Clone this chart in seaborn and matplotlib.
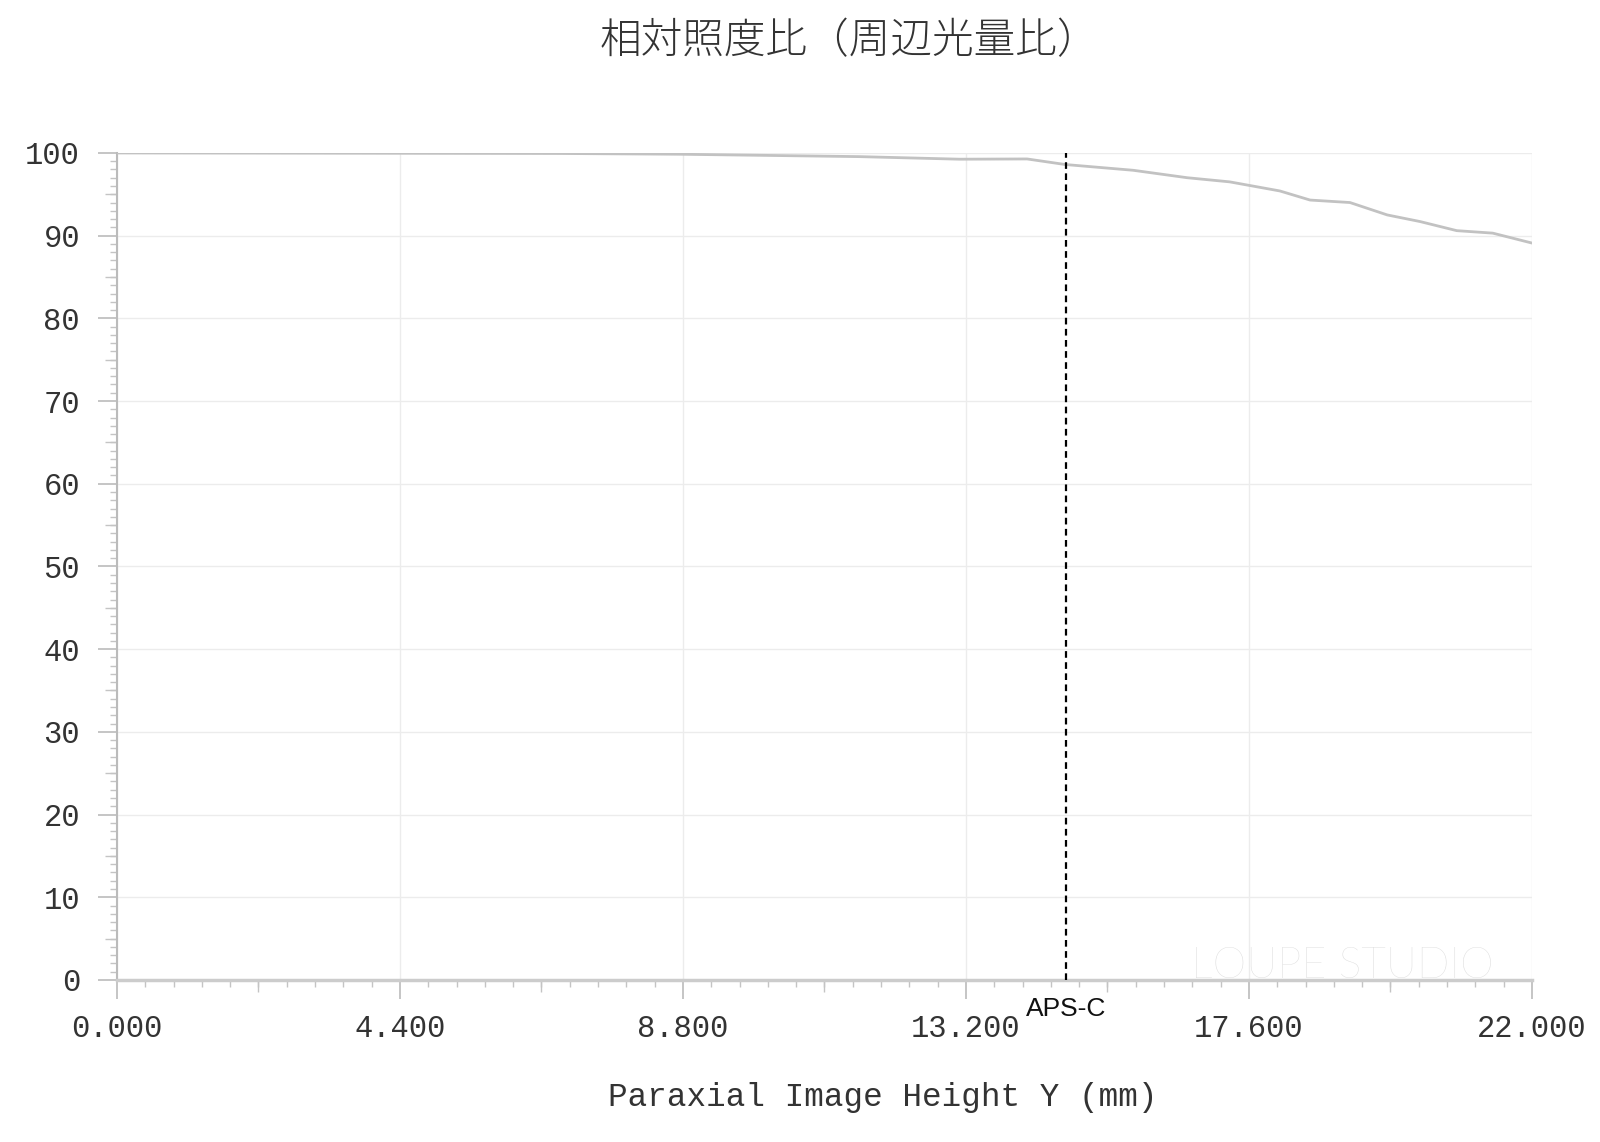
import numpy as np
import pandas as pd
import seaborn as sns
from matplotlib import pyplot as plt
from matplotlib.ticker import MultipleLocator, FixedLocator, NullFormatter

# relative illumination
image_height = [0.0, 3.1, 6.9, 8.75, 11.55, 13.1, 14.15, 14.74, 15.8, 16.64,
                17.3, 18.08, 18.55, 19.17, 19.75, 20.26, 20.83, 21.39, 22.0]
illumination = [100.0, 99.97, 99.93, 99.84, 99.55, 99.24, 99.27, 98.6, 97.9, 97.0,
                96.5, 95.4, 94.3, 94.0, 92.5, 91.7, 90.6, 90.3, 89.1]
aps_c = 14.75
x_ticks = [0.0, 4.4, 8.8, 13.2, 17.6, 22.0]
y_ticks = list(range(0, 101, 10))

title = '相対照度比（周辺光量比）'
xlabel = 'Paraxial Image Height Y (mm)'

sns.set_style('white')
plt.rcParams['font.family'] = ['Liberation Mono', 'DejaVu Sans']

df = pd.DataFrame({'h': image_height, 'ri': illumination})

fig = plt.figure(figsize=(16, 11.42), dpi=100)
ax = fig.add_axes([0.0731, 0.1419, 0.8844, 0.7242])

ax.grid(True, color='#ececec', lw=1)
sns.lineplot(data=df, x='h', y='ri', ax=ax, color='#c2c2c2', lw=2, zorder=3)
ax.axvline(aps_c, color='black', lw=1.6, ls=(0, (3, 2)), zorder=4)

ax.set_xlim(0, 22)
ax.set_ylim(0, 100)
ax.set_xticks(x_ticks)
ax.set_yticks(y_ticks)
ax.set_xticklabels([f'{v:.3f}' for v in x_ticks])
ax.xaxis.set_minor_locator(MultipleLocator(0.44))
ax.yaxis.set_minor_locator(MultipleLocator(1))

for s in ['top', 'right']:
    ax.spines[s].set_visible(False)
ax.spines['bottom'].set_color('#cccccc')
ax.spines['bottom'].set_linewidth(2.5)
ax.spines['left'].set_color('#bbbbbb')
ax.spines['left'].set_linewidth(1.5)

ax.tick_params(axis='both', which='both', bottom=True, left=True, direction='out')
ax.tick_params(axis='both', which='major', length=13.7, width=1.2, color='#bbbbbb',
               labelsize=22, labelcolor='#333333')
ax.tick_params(axis='x', which='major', pad=11)
ax.tick_params(axis='y', which='major', pad=13)
ax.tick_params(axis='both', which='minor', length=5, width=1, color='#c4c4c4')

# mid ticks (a bit longer) through secondary axes
sx = ax.secondary_xaxis('bottom')
sx.xaxis.set_major_locator(FixedLocator([2.2 + 4.4 * i for i in range(5)]))
sx.xaxis.set_major_formatter(NullFormatter())
sx.tick_params(bottom=True, length=8.6, width=1, color='#c4c4c4')
sx.spines['bottom'].set_visible(False)
sy = ax.secondary_yaxis('left')
sy.yaxis.set_major_locator(FixedLocator([5 + 10 * i for i in range(10)]))
sy.yaxis.set_major_formatter(NullFormatter())
sy.tick_params(left=True, length=8.6, width=1, color='#c4c4c4')
sy.spines['left'].set_visible(False)

ax.set_xlabel(xlabel, fontsize=23.5, color='#333333')
ax.xaxis.set_label_coords(0.541, -0.123)
ax.set_ylabel('')

ax.text(aps_c, -3.5, 'APS-C', ha='center', va='center', fontsize=19,
        family=['Liberation Sans', 'DejaVu Sans'], color='#111111')

ax.text(0.866, 0.016, 'LOUPE STUDIO', transform=ax.transAxes, ha='center', va='center',
        fontsize=31, family=['Lato', 'DejaVu Sans'], fontweight='light',
        color='#dcdcdc', zorder=1)

fig.text(0.531, 0.964, title, ha='center', va='center', fontsize=30,
         family=['Noto Sans CJK JP', 'DejaVu Sans'], fontweight='light', color='#333333')

fig.savefig('out.png', dpi=100)
